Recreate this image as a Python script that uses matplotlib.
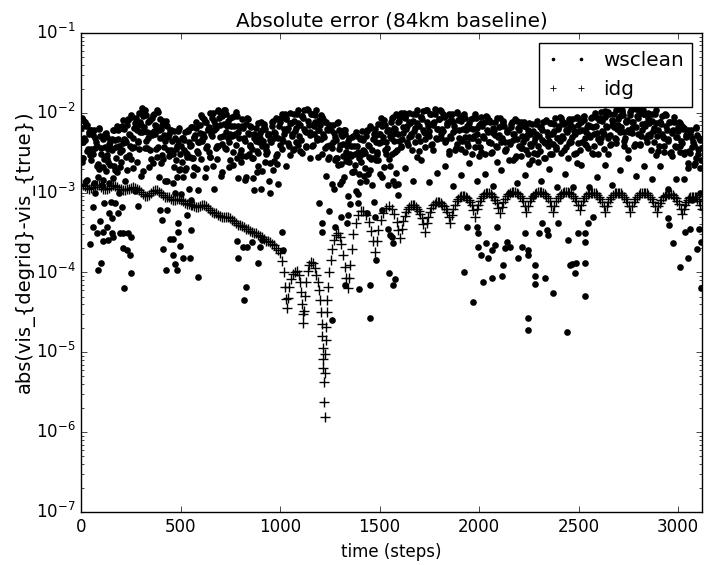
import numpy as np
import matplotlib
matplotlib.use('Agg')
import matplotlib.pyplot as plt
from matplotlib.lines import Line2D
from matplotlib.ticker import NullFormatter

plt.style.use('classic')
plt.rcParams['font.family'] = ['DejaVu Sans']
plt.rcParams['mathtext.fontset'] = 'dejavusans'

# ---------------- data (log10 of absolute error) ----------------
# wsclean, upper band: one value every 10 steps starting at step 5
ws_a_log = [
    -2.07, -2.31, -2.16, -2.45, -2.22, -2.49, -2.22, -2.37, -2.64, -2.29,
    -2.30, -2.58, -2.25, -2.45, -2.65, -2.33, -2.66, -2.43, -2.21, -2.49,
    -2.47, -2.20, -2.36, -2.08, -2.28, -2.05, -2.43, -2.15, -2.35, -2.24,
    -1.94, -2.18, -2.03, -2.32, -2.09, -2.28, -2.01, -2.16, -2.43, -2.08,
    -2.15, -2.43, -2.10, -2.30, -2.50, -2.35, -2.68, -2.45, -2.23, -2.51,
    -2.61, -2.34, -2.50, -2.22, -2.42, -2.18, -2.56, -2.28, -2.48, -2.37,
    -2.03, -2.27, -2.12, -2.41, -2.18, -2.27, -2.00, -2.15, -2.42, -2.07,
    -2.01, -2.29, -1.96, -2.16, -2.36, -2.16, -2.49, -2.26, -2.04, -2.32,
    -2.46, -2.19, -2.35, -2.07, -2.27, -2.18, -2.56, -2.28, -2.48, -2.37,
    -2.11, -2.35, -2.20, -2.49, -2.26, -2.37, -2.10, -2.25, -2.52, -2.17,
    -2.07, -2.35, -2.02, -2.22, -2.42, -2.13, -2.46, -2.23, -2.01, -2.29,
    -2.34, -2.07, -2.23, -1.95, -2.15, -2.02, -2.40, -2.12, -2.32, -2.21,
    -2.03, -2.27, -2.12, -2.41, -2.18, -2.42, -2.15, -2.30, -2.57, -2.22,
    -2.26, -2.54, -2.21, -2.41, -2.61, -2.41, -2.74, -2.51, -2.29, -2.57,
    -2.61, -2.34, -2.50, -2.22, -2.42, -2.19, -2.57, -2.29, -2.49, -2.38,
    -2.06, -2.30, -2.15, -2.44, -2.21, -2.32, -2.05, -2.20, -2.47, -2.12,
    -2.05, -2.33, -2.00, -2.20, -2.40, -2.13, -2.46, -2.23, -2.01, -2.29,
    -2.35, -2.08, -2.24, -1.96, -2.16, -2.01, -2.39, -2.11, -2.31, -2.20,
    -1.96, -2.20, -2.05, -2.34, -2.11, -2.29, -2.02, -2.17, -2.44, -2.09,
    -2.07, -2.35, -2.02, -2.22, -2.42, -2.19, -2.52, -2.29, -2.07, -2.35,
    -2.43, -2.16, -2.32, -2.04, -2.24, -2.11, -2.49, -2.21, -2.41, -2.30,
    -2.07, -2.31, -2.16, -2.45, -2.22, -2.39, -2.12, -2.27, -2.54, -2.19,
    -2.16, -2.44, -2.11, -2.31, -2.51, -2.26, -2.59, -2.36, -2.14, -2.42,
    -2.48, -2.21, -2.37, -2.09, -2.29, -2.13, -2.51, -2.23, -2.43, -2.32,
    -2.05, -2.29, -2.14, -2.43, -2.20, -2.35, -2.08, -2.23, -2.50, -2.15,
    -2.09, -2.37, -2.04, -2.24, -2.44, -2.17, -2.50, -2.27, -2.05, -2.33,
    -2.37, -2.10, -2.26, -1.98, -2.18, -2.01, -2.39, -2.11, -2.31, -2.20,
    -1.94, -2.18, -2.03, -2.32, -2.09, -2.24, -1.97, -2.12, -2.39, -2.04,
    -2.01, -2.29, -1.96, -2.16, -2.36, -2.13, -2.46, -2.23, -2.01, -2.29,
    -2.41, -2.14, -2.30, -2.02, -2.22, -2.11, -2.49, -2.21, -2.41, -2.30,
    -2.11, -2.35, -2.20, -2.49, -2.26, -2.48, -2.21, -2.36, -2.63, -2.28,
    -2.31, -2.59,
]

# wsclean, top of the band: one value every 10 steps starting at step 0
ws_d_log = [
    -2.19, -2.09, -2.34, -2.15, -2.26, -2.22, -2.51, -2.32, -2.41, -2.19,
    -2.44, -2.33, -2.26, -2.53, -2.39, -2.44, -2.22, -2.34, -2.16, -2.41,
    -2.19, -2.09, -2.34, -2.15, -2.26, -2.03, -2.32, -2.13, -2.22, -2.00,
    -2.15, -2.04, -1.97, -2.24, -2.10, -2.25, -2.03, -2.15, -1.97, -2.22,
    -2.20, -2.10, -2.35, -2.16, -2.27, -2.22, -2.51, -2.32, -2.41, -2.19,
    -2.42, -2.31, -2.24, -2.51, -2.37, -2.40, -2.18, -2.30, -2.12, -2.37,
    -2.15, -2.05, -2.30, -2.11, -2.22, -2.00, -2.29, -2.10, -2.19, -1.97,
    -2.15, -2.04, -1.97, -2.24, -2.10, -2.27, -2.05, -2.17, -1.99, -2.24,
    -2.18, -2.08, -2.33, -2.14, -2.25, -2.16, -2.45, -2.26, -2.35, -2.13,
    -2.32, -2.21, -2.14, -2.41, -2.27, -2.34, -2.12, -2.24, -2.06, -2.31,
    -2.12, -2.02, -2.27, -2.08, -2.19, -2.00, -2.29, -2.10, -2.19, -1.97,
    -2.15, -2.04, -1.97, -2.24, -2.10, -2.24, -2.02, -2.14, -1.96, -2.21,
    -2.15, -2.05, -2.30, -2.11, -2.22, -2.15, -2.44, -2.25, -2.34, -2.12,
    -2.40, -2.29, -2.22, -2.49, -2.35, -2.52, -2.30, -2.42, -2.24, -2.49,
    -2.33, -2.23, -2.48, -2.29, -2.40, -2.17, -2.46, -2.27, -2.36, -2.14,
    -2.27, -2.16, -2.09, -2.36, -2.22, -2.29, -2.07, -2.19, -2.01, -2.26,
    -2.10, -2.00, -2.25, -2.06, -2.17, -2.00, -2.29, -2.10, -2.19, -1.97,
    -2.16, -2.05, -1.98, -2.25, -2.11, -2.23, -2.01, -2.13, -1.95, -2.20,
    -2.08, -1.98, -2.23, -2.04, -2.15, -2.02, -2.31, -2.12, -2.21, -1.99,
    -2.21, -2.10, -2.03, -2.30, -2.16, -2.30, -2.08, -2.20, -2.02, -2.27,
    -2.15, -2.05, -2.30, -2.11, -2.22, -2.09, -2.38, -2.19, -2.28, -2.06,
    -2.28, -2.17, -2.10, -2.37, -2.23, -2.36, -2.14, -2.26, -2.08, -2.33,
    -2.21, -2.11, -2.36, -2.17, -2.28, -2.13, -2.42, -2.23, -2.32, -2.10,
    -2.29, -2.18, -2.11, -2.38, -2.24, -2.35, -2.13, -2.25, -2.07, -2.32,
    -2.17, -2.07, -2.32, -2.13, -2.24, -2.08, -2.37, -2.18, -2.27, -2.05,
    -2.23, -2.12, -2.05, -2.32, -2.18, -2.28, -2.06, -2.18, -2.00, -2.25,
    -2.09, -1.99, -2.24, -2.05, -2.16, -1.99, -2.28, -2.09, -2.18, -1.96,
    -2.15, -2.04, -1.97, -2.24, -2.10, -2.21, -1.99, -2.11, -1.93, -2.18,
    -2.06, -1.96, -2.21, -2.02, -2.13, -2.00, -2.29, -2.10, -2.19, -1.97,
    -2.22, -2.11, -2.04, -2.31, -2.17, -2.33, -2.11, -2.23, -2.05, -2.30,
    -2.23, -2.13, -2.38, -2.19, -2.30, -2.21, -2.50, -2.31, -2.40, -2.18,
    -2.45, -2.34,
]

# wsclean, upper-middle band: one value every 10 steps starting at step 8
ws_e_log = [
    -2.37, -2.12, -2.48, -2.24, -2.59, -2.28, -2.44, -2.66, -2.20, -2.52,
    -2.68, -2.43, -2.30, -2.61, -2.36, -2.46, -2.21, -2.57, -2.33, -2.68,
    -2.17, -2.33, -2.55, -2.09, -2.41, -2.44, -2.19, -2.06, -2.37, -2.12,
    -2.24, -1.99, -2.35, -2.11, -2.46, -2.07, -2.23, -2.45, -1.99, -2.31,
    -2.53, -2.28, -2.15, -2.46, -2.21, -2.48, -2.23, -2.59, -2.35, -2.70,
    -2.31, -2.47, -2.69, -2.23, -2.55, -2.57, -2.32, -2.19, -2.50, -2.25,
    -2.33, -2.08, -2.44, -2.20, -2.55, -2.06, -2.22, -2.44, -1.98, -2.30,
    -2.39, -2.14, -2.01, -2.32, -2.07, -2.29, -2.04, -2.40, -2.16, -2.51,
    -2.16, -2.32, -2.54, -2.08, -2.40, -2.57, -2.32, -2.19, -2.50, -2.25,
    -2.41, -2.16, -2.52, -2.28, -2.63, -2.16, -2.32, -2.54, -2.08, -2.40,
    -2.45, -2.20, -2.07, -2.38, -2.13, -2.26, -2.01, -2.37, -2.13, -2.48,
    -2.04, -2.20, -2.42, -1.96, -2.28, -2.41, -2.16, -2.03, -2.34, -2.09,
    -2.33, -2.08, -2.44, -2.20, -2.55, -2.21, -2.37, -2.59, -2.13, -2.45,
    -2.64, -2.39, -2.26, -2.57, -2.32, -2.54, -2.29, -2.65, -2.41, -2.76,
    -2.31, -2.47, -2.69, -2.23, -2.55, -2.58, -2.33, -2.20, -2.51, -2.26,
    -2.36, -2.11, -2.47, -2.23, -2.58, -2.11, -2.27, -2.49, -2.03, -2.35,
    -2.43, -2.18, -2.05, -2.36, -2.11, -2.26, -2.01, -2.37, -2.13, -2.48,
    -2.05, -2.21, -2.43, -1.97, -2.29, -2.40, -2.15, -2.02, -2.33, -2.08,
    -2.26, -2.01, -2.37, -2.13, -2.48, -2.08, -2.24, -2.46, -2.00, -2.32,
    -2.45, -2.20, -2.07, -2.38, -2.13, -2.32, -2.07, -2.43, -2.19, -2.54,
    -2.13, -2.29, -2.51, -2.05, -2.37, -2.50, -2.25, -2.12, -2.43, -2.18,
    -2.37, -2.12, -2.48, -2.24, -2.59, -2.18, -2.34, -2.56, -2.10, -2.42,
    -2.54, -2.29, -2.16, -2.47, -2.22, -2.39, -2.14, -2.50, -2.26, -2.61,
    -2.18, -2.34, -2.56, -2.10, -2.42, -2.52, -2.27, -2.14, -2.45, -2.20,
    -2.35, -2.10, -2.46, -2.22, -2.57, -2.14, -2.30, -2.52, -2.06, -2.38,
    -2.47, -2.22, -2.09, -2.40, -2.15, -2.30, -2.05, -2.41, -2.17, -2.52,
    -2.07, -2.23, -2.45, -1.99, -2.31, -2.40, -2.15, -2.02, -2.33, -2.08,
    -2.24, -1.99, -2.35, -2.11, -2.46, -2.03, -2.19, -2.41, -1.95, -2.27,
    -2.39, -2.14, -2.01, -2.32, -2.07, -2.26, -2.01, -2.37, -2.13, -2.48,
    -2.11, -2.27, -2.49, -2.03, -2.35, -2.50, -2.25, -2.12, -2.43, -2.18,
    -2.41, -2.16, -2.52, -2.28, -2.63, -2.27, -2.43, -2.65, -2.19, -2.51,
    -2.69, -2.44,
]

# wsclean, wider middle band: one value every 20 steps starting at step 10
ws_b_log = [
    -2.57, -2.84, -2.45, -3.00, -2.70, -2.84, -2.58, -3.12, -2.71, -3.00,
    -2.38, -2.72, -2.58, -2.98, -2.45, -2.73, -2.44, -2.58, -2.27, -2.81,
    -2.58, -2.85, -2.46, -3.01, -2.71, -2.81, -2.55, -3.09, -2.68, -2.97,
    -2.35, -2.69, -2.55, -2.95, -2.42, -2.74, -2.45, -2.59, -2.28, -2.82,
    -2.54, -2.81, -2.42, -2.97, -2.67, -2.73, -2.47, -3.01, -2.60, -2.89,
    -2.33, -2.67, -2.53, -2.45, -2.40, -2.50, -2.43, -2.57, -2.26, -2.55,
    -2.52, -2.79, -2.40, -2.95, -2.65, -2.86, -2.60, -3.14, -2.73, -3.02,
    -2.52, -2.86, -2.72, -3.12, -2.59, -2.81, -2.52, -2.66, -2.35, -2.89,
    -2.42, -2.69, -2.30, -2.85, -2.55, -2.59, -2.33, -2.87, -2.46, -2.75,
    -2.32, -2.66, -2.52, -2.92, -2.39, -2.78, -2.49, -2.63, -2.32, -2.86,
    -2.49, -2.76, -2.37, -2.92, -2.62, -2.72, -2.46, -3.00, -2.59, -2.88,
    -2.44, -2.78, -2.64, -3.04, -2.51, -2.85, -2.56, -2.70, -2.39, -2.93,
    -2.50, -2.77, -2.38, -2.93, -2.63, -2.65, -2.39, -2.93, -2.52, -2.81,
    -2.31, -2.65, -2.51, -2.91, -2.38, -2.71, -2.42, -2.56, -2.25, -2.79,
    -2.40, -2.67, -2.28, -2.83, -2.53, -2.67, -2.41, -2.95, -2.54, -2.83,
    -2.49, -2.83, -2.69, -3.09, -2.56, -3.01,
]

# wsclean, extra mid points (early part and around step 1400)
ws_f_steps = [
    3, 23, 43, 63, 83, 103, 123, 143, 163, 183, 203, 223, 243, 263, 283,
    303, 323, 343, 363, 383, 403, 423, 443, 463, 483, 503, 523, 543, 563,
    583, 603, 623, 643, 663, 683, 703, 723, 743, 763, 783, 803, 823, 843,
    863, 883, 903, 923, 943, 963, 983,
    1243, 1263, 1283, 1303, 1323, 1343, 1363, 1383, 1403, 1423, 1443, 1463,
    1483, 1503, 1523, 1543, 1563, 1583,
]
ws_f_log = [
    -2.62, -2.85, -2.53, -2.88, -2.80, -2.90, -2.73, -2.88, -2.82, -2.74,
    -2.62, -2.85, -2.53, -2.69, -2.61, -2.79, -2.44, -2.68, -2.63, -2.55,
    -2.63, -2.86, -2.54, -2.88, -2.80, -3.02, -2.71, -2.95, -2.78, -2.70,
    -2.58, -2.81, -2.49, -2.66, -2.58, -2.79, -2.44, -2.68, -2.65, -2.57,
    -2.61, -2.84, -2.52, -2.82, -2.74, -2.96, -2.61, -2.85, -2.72, -2.64,
    -2.58, -2.89, -2.57, -2.89, -2.81, -3.04, -2.74, -2.98, -2.87, -2.79,
    -2.76, -2.91, -2.59, -2.76, -2.68, -2.91, -2.51, -2.75,
]

# wsclean, scattered low points (step, log10 error)
ws_c_steps = [
    45, 85, 100, 60, 80, 95, 116, 60, 111, 131, 156, 111, 136, 161, 141, 156,
    186, 206, 171, 196, 211, 236, 251, 211, 231, 246, 251, 216, 286, 397, 407,
    432, 412, 427, 447, 462, 462, 472, 482, 497, 487, 512, 533, 548, 553, 487,
    588, 784, 789, 814, 834, 859, 889, 829, 819, 899, 909, 1010, 1015, 1196,
    1211, 1211, 1261, 1326, 1397, 1452, 1452, 1482, 1547, 1578, 1567, 1562,
    1336, 1341, 1392, 1276, 1306, 1246, 1437, 1477, 1512, 1542, 1567, 1578,
    1593, 1567, 1552, 1924, 1969, 1939, 1990, 1995, 1995, 2010, 2020, 2035,
    2045, 2065, 2065, 2080, 2090, 2115, 2120, 2130, 2140, 2155, 2195, 2216,
    2231, 2246, 2246, 2246, 2246, 2281, 2281, 2281, 2331, 2301, 2316, 2341,
    2346, 2371, 2396, 2442, 2447, 2457, 2467, 2482, 2487, 2497, 2532, 2532,
    2532, 2532, 2547, 2572, 2949, 2954, 2974, 3009, 3034, 3050, 3060, 3095,
    3105, 3115, 3115,
]
ws_c_log = [
    -3.64, -3.97, -3.88, -3.43, -3.51, -3.36, -3.13, -3.18, -3.49, -3.43,
    -3.51, -3.61, -3.59, -3.56, -3.26, -3.32, -3.26, -3.18, -3.13, -3.51,
    -3.51, -3.51, -3.56, -3.69, -3.72, -3.78, -4.01, -4.20, -3.17, -3.22,
    -3.34, -3.22, -3.71, -3.97, -3.58, -3.58, -3.78, -3.89, -3.97, -3.67,
    -3.49, -3.82, -3.28, -3.82, -3.47, -3.38, -4.06, -3.61, -3.82, -3.68,
    -3.68, -3.62, -3.88, -4.18, -4.35, -3.68, -3.59, -3.49, -3.72, -3.13,
    -3.38, -3.49, -4.60, -4.16, -4.21, -4.16, -4.57, -3.84, -4.01, -4.08,
    -4.16, -3.56, -3.38, -3.28, -3.13, -3.43, -3.31, -3.23, -3.26, -3.30,
    -3.22, -3.45, -2.85, -2.91, -3.03, -3.63, -3.53, -3.99, -4.37, -3.43,
    -3.43, -3.51, -3.68, -3.78, -4.12, -3.63, -3.82, -3.72, -4.07, -3.66,
    -3.43, -4.05, -3.91, -3.69, -3.62, -3.68, -3.82, -3.68, -3.51, -3.72,
    -3.78, -4.57, -4.72, -3.91, -4.05, -4.15, -4.07, -3.51, -3.38, -3.47,
    -3.53, -4.26, -3.38, -4.75, -3.59, -3.91, -3.89, -4.01, -3.88, -3.51,
    -3.51, -3.62, -3.88, -4.30, -3.38, -3.31, -3.32, -3.41, -3.63, -3.93,
    -3.49, -3.82, -3.46, -3.71, -3.46, -3.62, -4.20,
]

# idg (step, log10 error)
idg_steps = list(range(0, 1001, 10)) + [
    1010, 1018, 1025, 1031, 1036, 1041, 1047, 1055, 1065, 1075, 1085, 1094,
    1101, 1106, 1110, 1113, 1116, 1119, 1123, 1130, 1138, 1147, 1156, 1165,
    1174, 1183, 1191, 1197, 1202, 1206, 1209, 1212, 1214, 1216, 1218, 1220,
    1222, 1224, 1226, 1228, 1230, 1232, 1235, 1238, 1242, 1248, 1255, 1263,
    1272, 1281, 1290, 1299, 1308, 1317, 1326, 1333, 1339, 1345, 1351, 1359,
    1368, 1380, 1393, 1406, 1419, 1432, 1445, 1456, 1466, 1476, 1485, 1494,
    1505, 1518, 1532, 1546, 1560, 1573, 1585, 1595,
    1603, 1611, 1619, 1627, 1634, 1642, 1650, 1658, 1666, 1674, 1681, 1689,
    1697, 1705, 1713, 1720,
    1728, 1736, 1744, 1752, 1760, 1768, 1776, 1784, 1792, 1800, 1808, 1816,
    1824, 1832, 1840, 1848,
    1856, 1864, 1871, 1879, 1887, 1894, 1902, 1910, 1918, 1925, 1933, 1941,
    1948, 1956, 1964, 1971,
    1979, 1987, 1995, 2003, 2011, 2018, 2026, 2034, 2042, 2050, 2058, 2066,
    2074, 2082, 2089, 2097,
    2105, 2113, 2122, 2130, 2138, 2147, 2155, 2163, 2172, 2180, 2188, 2196,
    2205, 2213, 2221, 2230,
    2238, 2246, 2255, 2263, 2271, 2279, 2288, 2296, 2304, 2312, 2321, 2329,
    2337, 2345, 2354, 2362,
    2370, 2378, 2387, 2395, 2404, 2412, 2421, 2429, 2438, 2446, 2454, 2463,
    2471, 2480, 2488, 2497,
    2505, 2513, 2521, 2529, 2537, 2545, 2553, 2561, 2569, 2577, 2585, 2593,
    2601, 2609, 2617, 2625,
    2633, 2641, 2649, 2657, 2665, 2673, 2681, 2689, 2697, 2704, 2712, 2720,
    2728, 2736, 2744, 2752,
    2760, 2768, 2777, 2785, 2793, 2801, 2810, 2818, 2826, 2834, 2843, 2851,
    2859, 2867, 2876, 2884,
    2892, 2900, 2908, 2916, 2924, 2932, 2940, 2948, 2956, 2964, 2972, 2980,
    2988, 2996, 3004, 3012,
    3020, 3027, 3034, 3041, 3048, 3055, 3062, 3069, 3076, 3083, 3090, 3097,
    3104, 3111, 3118,
]
idg_log = [
    -2.89, -2.90, -2.92, -2.94, -2.95, -2.94, -2.93, -2.91, -2.90, -2.91,
    -2.93, -2.95, -2.96, -2.95, -2.94, -2.92, -2.91, -2.92, -2.93, -2.95,
    -2.96, -2.97, -2.97, -2.96, -2.95, -2.94, -2.93, -2.94, -2.95, -2.97,
    -2.99, -3.02, -3.04, -3.04, -3.03, -3.00, -2.98, -2.97, -2.97, -2.99,
    -3.01, -3.03, -3.05, -3.06, -3.06, -3.08, -3.09, -3.09, -3.08, -3.08,
    -3.09, -3.11, -3.13, -3.14, -3.14, -3.15, -3.16, -3.17, -3.18, -3.18,
    -3.17, -3.16, -3.15, -3.17, -3.19, -3.22, -3.24, -3.25, -3.26, -3.28,
    -3.29, -3.30, -3.31, -3.31, -3.31, -3.32, -3.34, -3.36, -3.38, -3.40,
    -3.41, -3.42, -3.43, -3.45, -3.46, -3.48, -3.49, -3.50, -3.51, -3.53,
    -3.54, -3.56, -3.58, -3.60, -3.61, -3.62, -3.64, -3.66, -3.69, -3.72,
    -3.76,
    -3.86, -4.00, -4.18, -4.33, -4.45, -4.32, -4.18, -4.08, -4.02, -3.99,
    -3.98, -4.03, -4.12, -4.25, -4.40, -4.52, -4.63, -4.48, -4.30, -4.12,
    -3.98, -3.90, -3.87, -3.88, -3.94, -4.03, -4.12, -4.22, -4.35, -4.50,
    -4.65, -4.80, -4.95, -5.08, -5.20, -5.37, -5.62, -5.81, -5.26, -5.02,
    -4.85, -4.68, -4.50, -4.35, -4.18, -4.00, -3.84, -3.70, -3.59, -3.53,
    -3.51, -3.55, -3.64, -3.78, -3.93, -4.07, -4.20, -4.07, -3.90, -3.70,
    -3.52, -3.38, -3.28, -3.23, -3.23, -3.28, -3.37, -3.48, -3.61, -3.74,
    -3.61, -3.47, -3.34, -3.25, -3.19, -3.17, -3.20, -3.27, -3.37, -3.47,
    -3.57, -3.45, -3.36, -3.29, -3.24, -3.21, -3.18, -3.16, -3.16, -3.16,
    -3.18, -3.20, -3.23, -3.27, -3.32, -3.39,
    -3.49, -3.38, -3.30, -3.24, -3.19, -3.16, -3.14, -3.12, -3.12, -3.12,
    -3.13, -3.15, -3.17, -3.20, -3.24, -3.30,
    -3.38, -3.28, -3.20, -3.15, -3.11, -3.08, -3.06, -3.04, -3.04, -3.04,
    -3.05, -3.07, -3.09, -3.12, -3.16, -3.22,
    -3.30, -3.21, -3.15, -3.10, -3.07, -3.04, -3.02, -3.01, -3.01, -3.01,
    -3.02, -3.04, -3.06, -3.09, -3.13, -3.19,
    -3.26, -3.18, -3.12, -3.08, -3.04, -3.02, -3.00, -2.99, -2.99, -2.99,
    -3.00, -3.02, -3.04, -3.07, -3.11, -3.17,
    -3.24, -3.17, -3.11, -3.07, -3.04, -3.02, -3.00, -2.99, -2.99, -2.99,
    -3.00, -3.02, -3.04, -3.07, -3.11, -3.17,
    -3.24, -3.17, -3.11, -3.07, -3.04, -3.02, -3.00, -2.99, -2.99, -2.99,
    -3.00, -3.02, -3.04, -3.07, -3.11, -3.16,
    -3.22, -3.15, -3.11, -3.07, -3.04, -3.02, -3.01, -3.00, -3.00, -3.00,
    -3.01, -3.03, -3.05, -3.08, -3.12, -3.17,
    -3.24, -3.17, -3.12, -3.08, -3.05, -3.03, -3.01, -3.00, -3.00, -3.00,
    -3.01, -3.03, -3.05, -3.08, -3.12, -3.17,
    -3.24, -3.17, -3.12, -3.08, -3.05, -3.03, -3.01, -3.00, -3.00, -3.00,
    -3.01, -3.03, -3.05, -3.08, -3.12, -3.17,
    -3.24, -3.17, -3.13, -3.09, -3.06, -3.04, -3.03, -3.02, -3.02, -3.02,
    -3.03, -3.05, -3.07, -3.10, -3.14, -3.20,
    -3.27, -3.20, -3.16, -3.12, -3.09, -3.07, -3.06, -3.05, -3.05, -3.05,
    -3.06, -3.08, -3.11, -3.15, -3.20,
]

y_ticks = [1e-7, 1e-6, 1e-5, 1e-4, 1e-3, 1e-2, 1e-1]

# sample positions (time steps) of the regular wsclean bands
ws_d_steps = 10 * np.arange(len(ws_d_log))
ws_a_steps = 5 + 10 * np.arange(len(ws_a_log))
ws_e_steps = 8 + 10 * np.arange(len(ws_e_log))
ws_b_steps = 10 + 20 * np.arange(len(ws_b_log))

ws_steps = np.concatenate([ws_d_steps, ws_a_steps, ws_e_steps, ws_b_steps,
                           np.array(ws_f_steps), np.array(ws_c_steps)])
ws_vals = 10.0 ** np.concatenate([ws_d_log, ws_a_log, ws_e_log, ws_b_log,
                                  ws_f_log, ws_c_log])
n_idg = min(len(idg_steps), len(idg_log))
idg_x = np.array(idg_steps[:n_idg])
idg_vals = 10.0 ** np.array(idg_log[:n_idg])

# ---------------- figure ----------------
fig = plt.figure(figsize=(7.04, 5.65), dpi=100, facecolor='white')
ax = fig.add_axes([0.1151, 0.0938, 0.8821, 0.8478])

ax.plot(ws_steps, ws_vals, linestyle='none', marker='o', color='k',
        markersize=4.8, markeredgewidth=0)
ax.plot(idg_x, idg_vals, linestyle='none', marker='+', color='k',
        markersize=7, markeredgewidth=1.0)

ax.set_yscale('log')
ax.set_xlim(0, 3120)
ax.set_ylim(1e-7, 1e-1)
ax.set_yticks(y_ticks)
ax.yaxis.set_minor_formatter(NullFormatter())
ax.set_title('Absolute error (84km baseline)', fontsize=14.4)
ax.set_xlabel('time (steps)', fontsize=12)
ax.set_ylabel('abs(vis_{degrid}-vis_{true})', fontsize=14)
ax.yaxis.set_label_coords(-0.075, 0.543)
ax.tick_params(labelsize=12)

# legend keys (small markers, as in the original legend)
h_ws = Line2D([], [], linestyle='none', marker='o', color='k',
              markersize=2.6, markeredgewidth=0)
h_idg = Line2D([], [], linestyle='none', marker='+', color='k',
               markersize=4.5, markeredgewidth=0.6)
ax.legend([h_ws, h_idg], ['wsclean', 'idg'], loc='upper right',
          numpoints=2, fontsize=14.4)

fig.savefig('out.png', dpi=100, facecolor='white')
